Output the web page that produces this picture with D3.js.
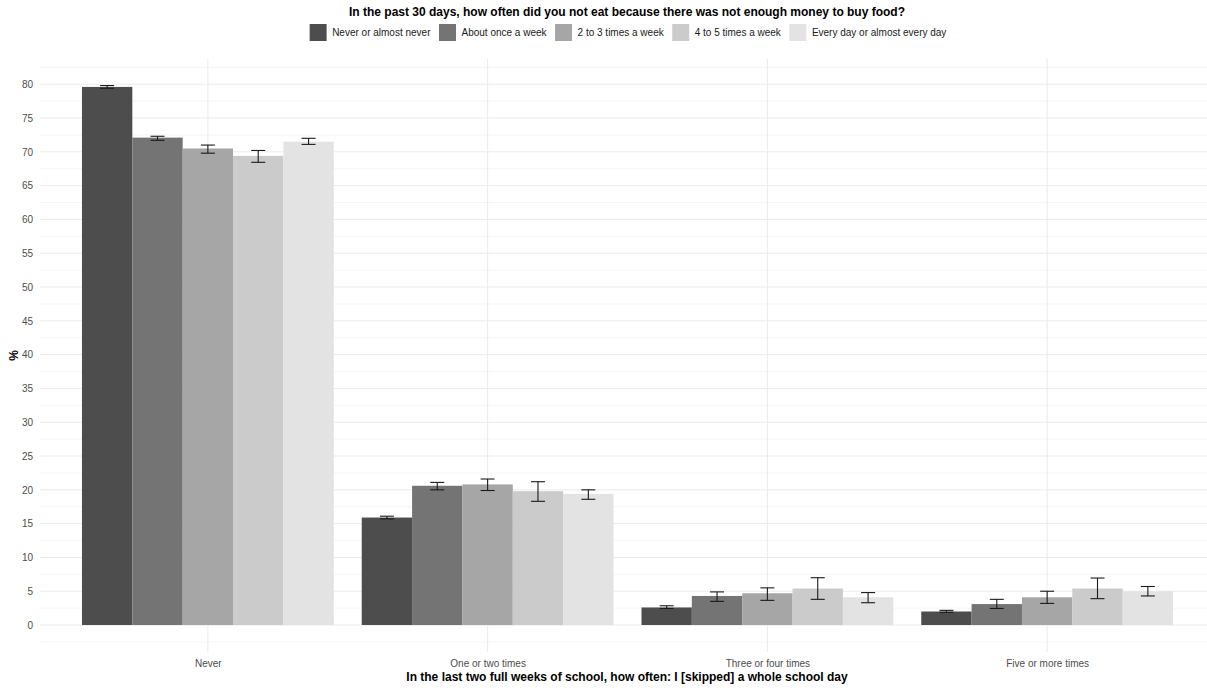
<!DOCTYPE html>
<html>
<head>
<meta charset="utf-8">
<script src="https://cdn.jsdelivr.net/npm/d3@7"></script>
<style>
  html, body { margin: 0; padding: 0; background: #fff; }
  svg { display: block; font-family: "Liberation Sans", Arial, sans-serif; }
</style>
</head>
<body>
<svg id="chart" width="1207" height="690"></svg>
<script>
// Groups on the x axis (skipping frequency) and series (food insecurity frequency)
const groups = ["Never", "One or two times", "Three or four times", "Five or more times"];
const series = ["Never or almost never", "About once a week", "2 to 3 times a week", "4 to 5 times a week", "Every day or almost every day"];
const colors = ["#4d4d4d", "#747474", "#a6a6a6", "#cbcbcb", "#e3e3e3"];

// Percentages, one array per series, in group order
const neverAlmostNever = [79.6, 15.9, 2.6, 2.0];
const onceAWeek        = [72.1, 20.6, 4.3, 3.1];
const twoToThree       = [70.5, 20.8, 4.7, 4.1];
const fourToFive       = [69.4, 19.8, 5.4, 5.4];
const everyDay         = [71.5, 19.4, 4.1, 5.0];

// Confidence interval bounds (low, high), per series and group
const neverAlmostNeverCI = [[79.4, 79.8], [15.7, 16.1], [2.45, 2.85], [1.88, 2.17]];
const onceAWeekCI        = [[71.7, 72.3], [20.0, 21.1], [3.5, 4.9], [2.45, 3.8]];
const twoToThreeCI       = [[69.8, 71.0], [19.9, 21.6], [3.65, 5.5], [3.2, 5.0]];
const fourToFiveCI       = [[68.45, 70.2], [18.3, 21.2], [3.8, 7.0], [3.9, 6.95]];
const everyDayCI         = [[71.1, 72.0], [18.6, 20.0], [3.3, 4.8], [4.3, 5.7]];

const yTicks = [0, 5, 10, 15, 20, 25, 30, 35, 40, 45, 50, 55, 60, 65, 70, 75, 80];

const title = "In the past 30 days, how often did you not eat because there was not enough money to buy food?";
const xTitle = "In the last two full weeks of school, how often: I [skipped] a whole school day";
const yTitle = "%";

const values = [neverAlmostNever, onceAWeek, twoToThree, fourToFive, everyDay];
const cis = [neverAlmostNeverCI, onceAWeekCI, twoToThreeCI, fourToFiveCI, everyDayCI];

const rows = [];
series.forEach((s, si) => {
  groups.forEach((g, gi) => {
    rows.push({ series: s, si, group: g, gi, value: values[si][gi], lo: cis[si][gi][0], hi: cis[si][gi][1] });
  });
});

const svg = d3.select("#chart");
const panel = { left: 40, right: 1215, top: 58.6, bottom: 652 };

// y scale with 5% padding on both ends of the data range
const yMax = d3.max(rows, d => d.hi);
const pad = yMax * 0.05;
const y = d3.scaleLinear().domain([-pad, yMax + pad]).range([panel.bottom, panel.top]);

// discrete x positions with 0.6 units of padding on each side
const x = d3.scaleLinear().domain([0.4, groups.length + 0.6]).range([panel.left, panel.right]);
const groupWidth = 0.9;
const barW = groupWidth / series.length;
const xSeries = d3.scaleBand().domain(series).range([-groupWidth / 2, groupWidth / 2]);

const g = svg.append("g");

// minor gridlines
const minor = d3.range(-2.5, yMax + pad, 5).filter(v => v >= y.domain()[0]);
g.selectAll(".minor").data(minor).join("line")
  .attr("x1", panel.left).attr("x2", panel.right)
  .attr("y1", d => y(d)).attr("y2", d => y(d))
  .attr("stroke", "#f0f0f0").attr("stroke-width", 0.7);

// major gridlines
g.selectAll(".major").data(yTicks).join("line")
  .attr("x1", panel.left).attr("x2", panel.right)
  .attr("y1", d => y(d)).attr("y2", d => y(d))
  .attr("stroke", "#ebebeb").attr("stroke-width", 1);

g.selectAll(".vgrid").data(groups).join("line")
  .attr("x1", (d, i) => x(i + 1)).attr("x2", (d, i) => x(i + 1))
  .attr("y1", panel.top).attr("y2", panel.bottom)
  .attr("stroke", "#ebebeb").attr("stroke-width", 1);

// bars
g.selectAll(".bar").data(rows).join("rect")
  .attr("x", d => x(d.gi + 1 + xSeries(d.series)))
  .attr("width", d => x(d.gi + 1 + barW) - x(d.gi + 1))
  .attr("y", d => y(d.value))
  .attr("height", d => y(0) - y(d.value))
  .attr("fill", d => colors[d.si]);

// error bars
const capHalf = 7;
const eb = g.selectAll(".eb").data(rows).join("g")
  .attr("transform", d => `translate(${x(d.gi + 1 + xSeries(d.series) + barW / 2)},0)`)
  .attr("stroke", "#1a1a1a").attr("stroke-width", 1.1);
eb.append("line").attr("x1", 0).attr("x2", 0).attr("y1", d => y(d.lo)).attr("y2", d => y(d.hi));
eb.append("line").attr("x1", -capHalf).attr("x2", capHalf).attr("y1", d => y(d.lo)).attr("y2", d => y(d.lo));
eb.append("line").attr("x1", -capHalf).attr("x2", capHalf).attr("y1", d => y(d.hi)).attr("y2", d => y(d.hi));

// y axis labels
const yAxis = svg.append("g").attr("transform", `translate(${panel.left},0)`)
  .call(d3.axisLeft(y).tickValues(yTicks).tickSize(0).tickPadding(7));
yAxis.select(".domain").remove();
yAxis.selectAll("text").attr("fill", "#4d4d4d").attr("font-size", "10px")
  .style("font-family", "Liberation Sans, Arial, sans-serif");

// x axis labels
const xAxis = svg.append("g").attr("transform", `translate(0,${panel.bottom})`)
  .call(d3.axisBottom(x).tickValues(groups.map((d, i) => i + 1)).tickFormat((d, i) => groups[i]).tickSize(0).tickPadding(8));
xAxis.select(".domain").remove();
xAxis.selectAll("text").attr("fill", "#4d4d4d").attr("font-size", "10px")
  .style("font-family", "Liberation Sans, Arial, sans-serif");

// axis titles
svg.append("text").attr("x", 627).attr("y", 681).attr("text-anchor", "middle")
  .attr("font-size", "12px").attr("font-weight", "bold").attr("fill", "#000").text(xTitle);
svg.append("text").attr("transform", `translate(18,${(panel.top + panel.bottom) / 2}) rotate(-90)`)
  .attr("text-anchor", "middle").attr("font-size", "12px").attr("font-weight", "bold").attr("fill", "#000").text(yTitle);

// title
svg.append("text").attr("x", 627).attr("y", 16).attr("text-anchor", "middle")
  .attr("font-size", "12px").attr("font-weight", "bold").attr("fill", "#000").text(title);

// legend, laid out from measured label widths and centred
const keySize = 17;
const keyGap = 5.5;
const itemGap = 8.5;
const legend = svg.append("g");
const items = legend.selectAll(".item").data(series).join("g");
items.append("rect").attr("width", keySize).attr("height", keySize).attr("fill", (d, i) => colors[i]);
items.append("text").attr("x", keySize + keyGap).attr("y", keySize / 2).attr("dy", "0.35em")
  .attr("font-size", "10px").attr("fill", "#1a1a1a").text(d => d);
let cursor = 0;
items.each(function () {
  const w = d3.select(this).select("text").node().getComputedTextLength();
  d3.select(this).attr("transform", `translate(${cursor},0)`);
  cursor += keySize + keyGap + w + itemGap;
});
const total = cursor - itemGap;
legend.attr("transform", `translate(${628 - total / 2},24)`);
</script>
</body>
</html>
